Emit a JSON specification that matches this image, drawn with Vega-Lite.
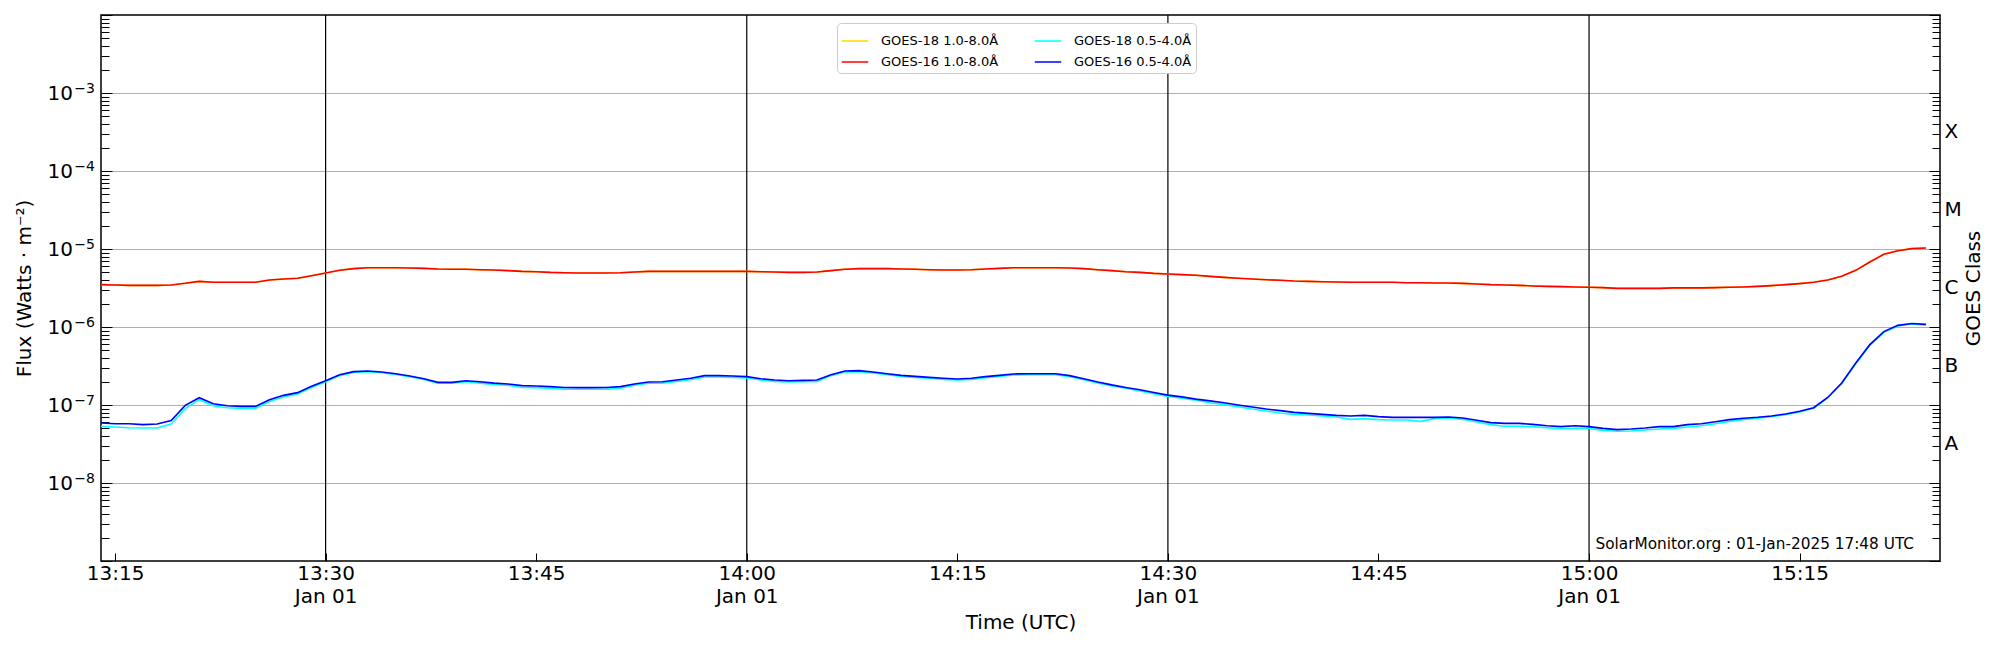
{
  "$schema": "https://vega.github.io/schema/vega-lite/v6.json",
  "width": 1839,
  "height": 546,
  "autosize": {"type": "none"},
  "padding": {"left": 101, "top": 15, "right": 60, "bottom": 89},
  "background": "white",
  "config": {
    "font": "DejaVu Sans",
    "view": {"stroke": "black", "strokeWidth": 1.5}
  },
  "resolve": {"scale": {"y": "shared"}, "axis": {"y": "independent"}},
  "encoding": {
    "x": {
      "field": "t",
      "type": "temporal",
      "scale": {
        "type": "utc",
        "nice": false,
        "domain": [
          {"year": 2025, "month": 1, "date": 1, "hours": 13, "minutes": 14, "utc": true},
          {"year": 2025, "month": 1, "date": 1, "hours": 15, "minutes": 25, "utc": true}
        ]
      },
      "axis": {
        "orient": "bottom",
        "title": "Time (UTC)",
        "titleFontSize": 20,
        "titleFontWeight": "normal",
        "titleColor": "black",
        "titlePadding": 6,
        "values": [
          {"year": 2025, "month": 1, "date": 1, "hours": 13, "minutes": 15, "utc": true},
          {"year": 2025, "month": 1, "date": 1, "hours": 13, "minutes": 30, "utc": true},
          {"year": 2025, "month": 1, "date": 1, "hours": 13, "minutes": 45, "utc": true},
          {"year": 2025, "month": 1, "date": 1, "hours": 14, "minutes": 0, "utc": true},
          {"year": 2025, "month": 1, "date": 1, "hours": 14, "minutes": 15, "utc": true},
          {"year": 2025, "month": 1, "date": 1, "hours": 14, "minutes": 30, "utc": true},
          {"year": 2025, "month": 1, "date": 1, "hours": 14, "minutes": 45, "utc": true},
          {"year": 2025, "month": 1, "date": 1, "hours": 15, "minutes": 0, "utc": true},
          {"year": 2025, "month": 1, "date": 1, "hours": 15, "minutes": 15, "utc": true}
        ],
        "labelExpr": "utcminutes(datum.value) % 30 == 0 ? [utcFormat(datum.value, '%H:%M'), utcFormat(datum.value, '%b %d')] : utcFormat(datum.value, '%H:%M')",
        "labelFontSize": 20,
        "labelColor": "black",
        "labelLineHeight": 23,
        "labelPadding": 10.5,
        "labelFlush": false,
        "labelOverlap": false,
        "labelBound": false,
        "tickSize": -8,
        "tickColor": "black",
        "tickWidth": 1,
        "domain": false,
        "grid": false
      }
    }
  },
  "layer": [
    {
      "data": {
        "format": {"parse": {"t": "utc:'%Y-%m-%d %H:%M'"}},
        "values": [
          {"t": "2025-01-01 13:30"},
          {"t": "2025-01-01 14:00"},
          {"t": "2025-01-01 14:30"},
          {"t": "2025-01-01 15:00"}
        ]
      },
      "mark": {"type": "rule", "color": "black", "strokeWidth": 1.2},
      "encoding": {
        "y": {
          "datum": 1e-9,
          "type": "quantitative",
          "scale": {"type": "log", "domain": [1e-9, 1e-2], "nice": false},
          "axis": {
            "orient": "left",
            "title": null,
            "tickCount": 20,
            "labelExpr": "abs(log(datum.value)/LN10 - round(log(datum.value)/LN10)) < 1e-6 && datum.value > 5e-9 && datum.value < 5e-3 ? '−' + toString(-round(log(datum.value)/LN10)) : ''",
            "labelFontSize": 14,
            "labelColor": "black",
            "labelPadding": 17.5,
            "labelOffset": -5,
            "labelOverlap": false,
            "labelFlush": false,
            "labelBound": false,
            "tickColor": "black",
            "tickWidth": 1,
            "tickSize": -11,
            "tickOpacity": {"condition": {"test": "abs(log(datum.value)/LN10 - round(log(datum.value)/LN10)) < 1e-6", "value": 1}, "value": 0},
            "domain": false,
            "grid": false
          }
        },
        "y2": {"datum": 1e-2}
      }
    },
    {
      "data": {
        "format": {"parse": {"t": "utc:'%Y-%m-%d %H:%M'"}},
        "values": [
{"s":"18L","t":"2025-01-01 13:14","f":3.49e-6},{"s":"18L","t":"2025-01-01 13:15","f":3.46e-6},{"s":"18L","t":"2025-01-01 13:16","f":3.42e-6},{"s":"18L","t":"2025-01-01 13:17","f":3.42e-6},{"s":"18L","t":"2025-01-01 13:18","f":3.42e-6},{"s":"18L","t":"2025-01-01 13:19","f":3.46e-6},{"s":"18L","t":"2025-01-01 13:20","f":3.63e-6},{"s":"18L","t":"2025-01-01 13:21","f":3.85e-6},{"s":"18L","t":"2025-01-01 13:22","f":3.74e-6},{"s":"18L","t":"2025-01-01 13:23","f":3.74e-6},
{"s":"18L","t":"2025-01-01 13:24","f":3.74e-6},{"s":"18L","t":"2025-01-01 13:25","f":3.74e-6},{"s":"18L","t":"2025-01-01 13:26","f":4.01e-6},{"s":"18L","t":"2025-01-01 13:27","f":4.12e-6},{"s":"18L","t":"2025-01-01 13:28","f":4.21e-6},{"s":"18L","t":"2025-01-01 13:29","f":4.55e-6},{"s":"18L","t":"2025-01-01 13:30","f":4.92e-6},{"s":"18L","t":"2025-01-01 13:31","f":5.33e-6},{"s":"18L","t":"2025-01-01 13:32","f":5.60e-6},{"s":"18L","t":"2025-01-01 13:33","f":5.76e-6},
{"s":"18L","t":"2025-01-01 13:34","f":5.76e-6},{"s":"18L","t":"2025-01-01 13:35","f":5.76e-6},{"s":"18L","t":"2025-01-01 13:36","f":5.70e-6},{"s":"18L","t":"2025-01-01 13:37","f":5.65e-6},{"s":"18L","t":"2025-01-01 13:38","f":5.54e-6},{"s":"18L","t":"2025-01-01 13:39","f":5.49e-6},{"s":"18L","t":"2025-01-01 13:40","f":5.49e-6},{"s":"18L","t":"2025-01-01 13:41","f":5.43e-6},{"s":"18L","t":"2025-01-01 13:42","f":5.38e-6},{"s":"18L","t":"2025-01-01 13:43","f":5.28e-6},
{"s":"18L","t":"2025-01-01 13:44","f":5.17e-6},{"s":"18L","t":"2025-01-01 13:45","f":5.12e-6},{"s":"18L","t":"2025-01-01 13:46","f":5.02e-6},{"s":"18L","t":"2025-01-01 13:47","f":4.97e-6},{"s":"18L","t":"2025-01-01 13:48","f":4.92e-6},{"s":"18L","t":"2025-01-01 13:49","f":4.92e-6},{"s":"18L","t":"2025-01-01 13:50","f":4.92e-6},{"s":"18L","t":"2025-01-01 13:51","f":4.97e-6},{"s":"18L","t":"2025-01-01 13:52","f":5.07e-6},{"s":"18L","t":"2025-01-01 13:53","f":5.17e-6},
{"s":"18L","t":"2025-01-01 13:54","f":5.17e-6},{"s":"18L","t":"2025-01-01 13:55","f":5.17e-6},{"s":"18L","t":"2025-01-01 13:56","f":5.17e-6},{"s":"18L","t":"2025-01-01 13:57","f":5.17e-6},{"s":"18L","t":"2025-01-01 13:58","f":5.17e-6},{"s":"18L","t":"2025-01-01 13:59","f":5.17e-6},{"s":"18L","t":"2025-01-01 14:00","f":5.17e-6},{"s":"18L","t":"2025-01-01 14:01","f":5.12e-6},{"s":"18L","t":"2025-01-01 14:02","f":5.07e-6},{"s":"18L","t":"2025-01-01 14:03","f":5.02e-6},
{"s":"18L","t":"2025-01-01 14:04","f":5.02e-6},{"s":"18L","t":"2025-01-01 14:05","f":5.07e-6},{"s":"18L","t":"2025-01-01 14:06","f":5.28e-6},{"s":"18L","t":"2025-01-01 14:07","f":5.49e-6},{"s":"18L","t":"2025-01-01 14:08","f":5.60e-6},{"s":"18L","t":"2025-01-01 14:09","f":5.60e-6},{"s":"18L","t":"2025-01-01 14:10","f":5.60e-6},{"s":"18L","t":"2025-01-01 14:11","f":5.54e-6},{"s":"18L","t":"2025-01-01 14:12","f":5.49e-6},{"s":"18L","t":"2025-01-01 14:13","f":5.43e-6},
{"s":"18L","t":"2025-01-01 14:14","f":5.38e-6},{"s":"18L","t":"2025-01-01 14:15","f":5.38e-6},{"s":"18L","t":"2025-01-01 14:16","f":5.43e-6},{"s":"18L","t":"2025-01-01 14:17","f":5.54e-6},{"s":"18L","t":"2025-01-01 14:18","f":5.65e-6},{"s":"18L","t":"2025-01-01 14:19","f":5.76e-6},{"s":"18L","t":"2025-01-01 14:20","f":5.76e-6},{"s":"18L","t":"2025-01-01 14:21","f":5.76e-6},{"s":"18L","t":"2025-01-01 14:22","f":5.76e-6},{"s":"18L","t":"2025-01-01 14:23","f":5.70e-6},
{"s":"18L","t":"2025-01-01 14:24","f":5.60e-6},{"s":"18L","t":"2025-01-01 14:25","f":5.43e-6},{"s":"18L","t":"2025-01-01 14:26","f":5.28e-6},{"s":"18L","t":"2025-01-01 14:27","f":5.12e-6},{"s":"18L","t":"2025-01-01 14:28","f":5.02e-6},{"s":"18L","t":"2025-01-01 14:29","f":4.87e-6},{"s":"18L","t":"2025-01-01 14:30","f":4.78e-6},{"s":"18L","t":"2025-01-01 14:31","f":4.69e-6},{"s":"18L","t":"2025-01-01 14:32","f":4.60e-6},{"s":"18L","t":"2025-01-01 14:33","f":4.46e-6},
{"s":"18L","t":"2025-01-01 14:34","f":4.33e-6},{"s":"18L","t":"2025-01-01 14:35","f":4.21e-6},{"s":"18L","t":"2025-01-01 14:36","f":4.12e-6},{"s":"18L","t":"2025-01-01 14:37","f":4.04e-6},{"s":"18L","t":"2025-01-01 14:38","f":3.97e-6},{"s":"18L","t":"2025-01-01 14:39","f":3.89e-6},{"s":"18L","t":"2025-01-01 14:40","f":3.85e-6},{"s":"18L","t":"2025-01-01 14:41","f":3.81e-6},{"s":"18L","t":"2025-01-01 14:42","f":3.78e-6},{"s":"18L","t":"2025-01-01 14:43","f":3.74e-6},
{"s":"18L","t":"2025-01-01 14:44","f":3.74e-6},{"s":"18L","t":"2025-01-01 14:45","f":3.74e-6},{"s":"18L","t":"2025-01-01 14:46","f":3.74e-6},{"s":"18L","t":"2025-01-01 14:47","f":3.70e-6},{"s":"18L","t":"2025-01-01 14:48","f":3.70e-6},{"s":"18L","t":"2025-01-01 14:49","f":3.67e-6},{"s":"18L","t":"2025-01-01 14:50","f":3.67e-6},{"s":"18L","t":"2025-01-01 14:51","f":3.63e-6},{"s":"18L","t":"2025-01-01 14:52","f":3.56e-6},{"s":"18L","t":"2025-01-01 14:53","f":3.49e-6},
{"s":"18L","t":"2025-01-01 14:54","f":3.46e-6},{"s":"18L","t":"2025-01-01 14:55","f":3.42e-6},{"s":"18L","t":"2025-01-01 14:56","f":3.36e-6},{"s":"18L","t":"2025-01-01 14:57","f":3.32e-6},{"s":"18L","t":"2025-01-01 14:58","f":3.29e-6},{"s":"18L","t":"2025-01-01 14:59","f":3.26e-6},{"s":"18L","t":"2025-01-01 15:00","f":3.23e-6},{"s":"18L","t":"2025-01-01 15:01","f":3.20e-6},{"s":"18L","t":"2025-01-01 15:02","f":3.13e-6},{"s":"18L","t":"2025-01-01 15:03","f":3.13e-6},
{"s":"18L","t":"2025-01-01 15:04","f":3.13e-6},{"s":"18L","t":"2025-01-01 15:05","f":3.13e-6},{"s":"18L","t":"2025-01-01 15:06","f":3.17e-6},{"s":"18L","t":"2025-01-01 15:07","f":3.17e-6},{"s":"18L","t":"2025-01-01 15:08","f":3.17e-6},{"s":"18L","t":"2025-01-01 15:09","f":3.20e-6},{"s":"18L","t":"2025-01-01 15:10","f":3.23e-6},{"s":"18L","t":"2025-01-01 15:11","f":3.26e-6},{"s":"18L","t":"2025-01-01 15:12","f":3.32e-6},{"s":"18L","t":"2025-01-01 15:13","f":3.39e-6},
{"s":"18L","t":"2025-01-01 15:14","f":3.49e-6},{"s":"18L","t":"2025-01-01 15:15","f":3.60e-6},{"s":"18L","t":"2025-01-01 15:16","f":3.74e-6},{"s":"18L","t":"2025-01-01 15:17","f":4.01e-6},{"s":"18L","t":"2025-01-01 15:18","f":4.46e-6},{"s":"18L","t":"2025-01-01 15:19","f":5.33e-6},{"s":"18L","t":"2025-01-01 15:20","f":6.82e-6},{"s":"18L","t":"2025-01-01 15:21","f":8.54e-6},{"s":"18L","t":"2025-01-01 15:22","f":9.52e-6},{"s":"18L","t":"2025-01-01 15:23","f":1.01e-5},
{"s":"18L","t":"2025-01-01 15:24","f":1.03e-5},
{"s":"16L","t":"2025-01-01 13:14","f":3.49e-6},{"s":"16L","t":"2025-01-01 13:15","f":3.46e-6},{"s":"16L","t":"2025-01-01 13:16","f":3.42e-6},{"s":"16L","t":"2025-01-01 13:17","f":3.42e-6},{"s":"16L","t":"2025-01-01 13:18","f":3.42e-6},{"s":"16L","t":"2025-01-01 13:19","f":3.46e-6},{"s":"16L","t":"2025-01-01 13:20","f":3.63e-6},{"s":"16L","t":"2025-01-01 13:21","f":3.85e-6},{"s":"16L","t":"2025-01-01 13:22","f":3.74e-6},{"s":"16L","t":"2025-01-01 13:23","f":3.74e-6},
{"s":"16L","t":"2025-01-01 13:24","f":3.74e-6},{"s":"16L","t":"2025-01-01 13:25","f":3.74e-6},{"s":"16L","t":"2025-01-01 13:26","f":4.01e-6},{"s":"16L","t":"2025-01-01 13:27","f":4.12e-6},{"s":"16L","t":"2025-01-01 13:28","f":4.21e-6},{"s":"16L","t":"2025-01-01 13:29","f":4.55e-6},{"s":"16L","t":"2025-01-01 13:30","f":4.92e-6},{"s":"16L","t":"2025-01-01 13:31","f":5.33e-6},{"s":"16L","t":"2025-01-01 13:32","f":5.60e-6},{"s":"16L","t":"2025-01-01 13:33","f":5.76e-6},
{"s":"16L","t":"2025-01-01 13:34","f":5.76e-6},{"s":"16L","t":"2025-01-01 13:35","f":5.76e-6},{"s":"16L","t":"2025-01-01 13:36","f":5.70e-6},{"s":"16L","t":"2025-01-01 13:37","f":5.65e-6},{"s":"16L","t":"2025-01-01 13:38","f":5.54e-6},{"s":"16L","t":"2025-01-01 13:39","f":5.49e-6},{"s":"16L","t":"2025-01-01 13:40","f":5.49e-6},{"s":"16L","t":"2025-01-01 13:41","f":5.43e-6},{"s":"16L","t":"2025-01-01 13:42","f":5.38e-6},{"s":"16L","t":"2025-01-01 13:43","f":5.28e-6},
{"s":"16L","t":"2025-01-01 13:44","f":5.17e-6},{"s":"16L","t":"2025-01-01 13:45","f":5.12e-6},{"s":"16L","t":"2025-01-01 13:46","f":5.02e-6},{"s":"16L","t":"2025-01-01 13:47","f":4.97e-6},{"s":"16L","t":"2025-01-01 13:48","f":4.92e-6},{"s":"16L","t":"2025-01-01 13:49","f":4.92e-6},{"s":"16L","t":"2025-01-01 13:50","f":4.92e-6},{"s":"16L","t":"2025-01-01 13:51","f":4.97e-6},{"s":"16L","t":"2025-01-01 13:52","f":5.07e-6},{"s":"16L","t":"2025-01-01 13:53","f":5.17e-6},
{"s":"16L","t":"2025-01-01 13:54","f":5.17e-6},{"s":"16L","t":"2025-01-01 13:55","f":5.17e-6},{"s":"16L","t":"2025-01-01 13:56","f":5.17e-6},{"s":"16L","t":"2025-01-01 13:57","f":5.17e-6},{"s":"16L","t":"2025-01-01 13:58","f":5.17e-6},{"s":"16L","t":"2025-01-01 13:59","f":5.17e-6},{"s":"16L","t":"2025-01-01 14:00","f":5.17e-6},{"s":"16L","t":"2025-01-01 14:01","f":5.12e-6},{"s":"16L","t":"2025-01-01 14:02","f":5.07e-6},{"s":"16L","t":"2025-01-01 14:03","f":5.02e-6},
{"s":"16L","t":"2025-01-01 14:04","f":5.02e-6},{"s":"16L","t":"2025-01-01 14:05","f":5.07e-6},{"s":"16L","t":"2025-01-01 14:06","f":5.28e-6},{"s":"16L","t":"2025-01-01 14:07","f":5.49e-6},{"s":"16L","t":"2025-01-01 14:08","f":5.60e-6},{"s":"16L","t":"2025-01-01 14:09","f":5.60e-6},{"s":"16L","t":"2025-01-01 14:10","f":5.60e-6},{"s":"16L","t":"2025-01-01 14:11","f":5.54e-6},{"s":"16L","t":"2025-01-01 14:12","f":5.49e-6},{"s":"16L","t":"2025-01-01 14:13","f":5.43e-6},
{"s":"16L","t":"2025-01-01 14:14","f":5.38e-6},{"s":"16L","t":"2025-01-01 14:15","f":5.38e-6},{"s":"16L","t":"2025-01-01 14:16","f":5.43e-6},{"s":"16L","t":"2025-01-01 14:17","f":5.54e-6},{"s":"16L","t":"2025-01-01 14:18","f":5.65e-6},{"s":"16L","t":"2025-01-01 14:19","f":5.76e-6},{"s":"16L","t":"2025-01-01 14:20","f":5.76e-6},{"s":"16L","t":"2025-01-01 14:21","f":5.76e-6},{"s":"16L","t":"2025-01-01 14:22","f":5.76e-6},{"s":"16L","t":"2025-01-01 14:23","f":5.70e-6},
{"s":"16L","t":"2025-01-01 14:24","f":5.60e-6},{"s":"16L","t":"2025-01-01 14:25","f":5.43e-6},{"s":"16L","t":"2025-01-01 14:26","f":5.28e-6},{"s":"16L","t":"2025-01-01 14:27","f":5.12e-6},{"s":"16L","t":"2025-01-01 14:28","f":5.02e-6},{"s":"16L","t":"2025-01-01 14:29","f":4.87e-6},{"s":"16L","t":"2025-01-01 14:30","f":4.78e-6},{"s":"16L","t":"2025-01-01 14:31","f":4.69e-6},{"s":"16L","t":"2025-01-01 14:32","f":4.60e-6},{"s":"16L","t":"2025-01-01 14:33","f":4.46e-6},
{"s":"16L","t":"2025-01-01 14:34","f":4.33e-6},{"s":"16L","t":"2025-01-01 14:35","f":4.21e-6},{"s":"16L","t":"2025-01-01 14:36","f":4.12e-6},{"s":"16L","t":"2025-01-01 14:37","f":4.04e-6},{"s":"16L","t":"2025-01-01 14:38","f":3.97e-6},{"s":"16L","t":"2025-01-01 14:39","f":3.89e-6},{"s":"16L","t":"2025-01-01 14:40","f":3.85e-6},{"s":"16L","t":"2025-01-01 14:41","f":3.81e-6},{"s":"16L","t":"2025-01-01 14:42","f":3.78e-6},{"s":"16L","t":"2025-01-01 14:43","f":3.74e-6},
{"s":"16L","t":"2025-01-01 14:44","f":3.74e-6},{"s":"16L","t":"2025-01-01 14:45","f":3.74e-6},{"s":"16L","t":"2025-01-01 14:46","f":3.74e-6},{"s":"16L","t":"2025-01-01 14:47","f":3.70e-6},{"s":"16L","t":"2025-01-01 14:48","f":3.70e-6},{"s":"16L","t":"2025-01-01 14:49","f":3.67e-6},{"s":"16L","t":"2025-01-01 14:50","f":3.67e-6},{"s":"16L","t":"2025-01-01 14:51","f":3.63e-6},{"s":"16L","t":"2025-01-01 14:52","f":3.56e-6},{"s":"16L","t":"2025-01-01 14:53","f":3.49e-6},
{"s":"16L","t":"2025-01-01 14:54","f":3.46e-6},{"s":"16L","t":"2025-01-01 14:55","f":3.42e-6},{"s":"16L","t":"2025-01-01 14:56","f":3.36e-6},{"s":"16L","t":"2025-01-01 14:57","f":3.32e-6},{"s":"16L","t":"2025-01-01 14:58","f":3.29e-6},{"s":"16L","t":"2025-01-01 14:59","f":3.26e-6},{"s":"16L","t":"2025-01-01 15:00","f":3.23e-6},{"s":"16L","t":"2025-01-01 15:01","f":3.20e-6},{"s":"16L","t":"2025-01-01 15:02","f":3.13e-6},{"s":"16L","t":"2025-01-01 15:03","f":3.13e-6},
{"s":"16L","t":"2025-01-01 15:04","f":3.13e-6},{"s":"16L","t":"2025-01-01 15:05","f":3.13e-6},{"s":"16L","t":"2025-01-01 15:06","f":3.17e-6},{"s":"16L","t":"2025-01-01 15:07","f":3.17e-6},{"s":"16L","t":"2025-01-01 15:08","f":3.17e-6},{"s":"16L","t":"2025-01-01 15:09","f":3.20e-6},{"s":"16L","t":"2025-01-01 15:10","f":3.23e-6},{"s":"16L","t":"2025-01-01 15:11","f":3.26e-6},{"s":"16L","t":"2025-01-01 15:12","f":3.32e-6},{"s":"16L","t":"2025-01-01 15:13","f":3.39e-6},
{"s":"16L","t":"2025-01-01 15:14","f":3.49e-6},{"s":"16L","t":"2025-01-01 15:15","f":3.60e-6},{"s":"16L","t":"2025-01-01 15:16","f":3.74e-6},{"s":"16L","t":"2025-01-01 15:17","f":4.01e-6},{"s":"16L","t":"2025-01-01 15:18","f":4.46e-6},{"s":"16L","t":"2025-01-01 15:19","f":5.33e-6},{"s":"16L","t":"2025-01-01 15:20","f":6.82e-6},{"s":"16L","t":"2025-01-01 15:21","f":8.54e-6},{"s":"16L","t":"2025-01-01 15:22","f":9.52e-6},{"s":"16L","t":"2025-01-01 15:23","f":1.01e-5},
{"s":"16L","t":"2025-01-01 15:24","f":1.03e-5},
{"s":"18S","t":"2025-01-01 13:14","f":5.33e-8},{"s":"18S","t":"2025-01-01 13:15","f":5.23e-8},{"s":"18S","t":"2025-01-01 13:16","f":5.12e-8},{"s":"18S","t":"2025-01-01 13:17","f":5.07e-8},{"s":"18S","t":"2025-01-01 13:18","f":5.07e-8},{"s":"18S","t":"2025-01-01 13:19","f":5.71e-8},{"s":"18S","t":"2025-01-01 13:20","f":8.97e-8},{"s":"18S","t":"2025-01-01 13:21","f":1.17e-7},{"s":"18S","t":"2025-01-01 13:22","f":9.80e-8},{"s":"18S","t":"2025-01-01 13:23","f":9.24e-8},
{"s":"18S","t":"2025-01-01 13:24","f":9.06e-8},{"s":"18S","t":"2025-01-01 13:25","f":9.06e-8},{"s":"18S","t":"2025-01-01 13:26","f":1.11e-7},{"s":"18S","t":"2025-01-01 13:27","f":1.27e-7},{"s":"18S","t":"2025-01-01 13:28","f":1.38e-7},{"s":"18S","t":"2025-01-01 13:29","f":1.67e-7},{"s":"18S","t":"2025-01-01 13:30","f":1.99e-7},{"s":"18S","t":"2025-01-01 13:31","f":2.38e-7},{"s":"18S","t":"2025-01-01 13:32","f":2.62e-7},{"s":"18S","t":"2025-01-01 13:33","f":2.68e-7},
{"s":"18S","t":"2025-01-01 13:34","f":2.60e-7},{"s":"18S","t":"2025-01-01 13:35","f":2.47e-7},{"s":"18S","t":"2025-01-01 13:36","f":2.31e-7},{"s":"18S","t":"2025-01-01 13:37","f":2.13e-7},{"s":"18S","t":"2025-01-01 13:38","f":1.91e-7},{"s":"18S","t":"2025-01-01 13:39","f":1.91e-7},{"s":"18S","t":"2025-01-01 13:40","f":1.99e-7},{"s":"18S","t":"2025-01-01 13:41","f":1.91e-7},{"s":"18S","t":"2025-01-01 13:42","f":1.84e-7},{"s":"18S","t":"2025-01-01 13:43","f":1.79e-7},
{"s":"18S","t":"2025-01-01 13:44","f":1.68e-7},{"s":"18S","t":"2025-01-01 13:45","f":1.67e-7},{"s":"18S","t":"2025-01-01 13:46","f":1.64e-7},{"s":"18S","t":"2025-01-01 13:47","f":1.60e-7},{"s":"18S","t":"2025-01-01 13:48","f":1.59e-7},{"s":"18S","t":"2025-01-01 13:49","f":1.59e-7},{"s":"18S","t":"2025-01-01 13:50","f":1.60e-7},{"s":"18S","t":"2025-01-01 13:51","f":1.64e-7},{"s":"18S","t":"2025-01-01 13:52","f":1.79e-7},{"s":"18S","t":"2025-01-01 13:53","f":1.90e-7},
{"s":"18S","t":"2025-01-01 13:54","f":1.91e-7},{"s":"18S","t":"2025-01-01 13:55","f":2.01e-7},{"s":"18S","t":"2025-01-01 13:56","f":2.11e-7},{"s":"18S","t":"2025-01-01 13:57","f":2.29e-7},{"s":"18S","t":"2025-01-01 13:58","f":2.29e-7},{"s":"18S","t":"2025-01-01 13:59","f":2.26e-7},{"s":"18S","t":"2025-01-01 14:00","f":2.22e-7},{"s":"18S","t":"2025-01-01 14:01","f":2.09e-7},{"s":"18S","t":"2025-01-01 14:02","f":2.01e-7},{"s":"18S","t":"2025-01-01 14:03","f":1.97e-7},
{"s":"18S","t":"2025-01-01 14:04","f":1.99e-7},{"s":"18S","t":"2025-01-01 14:05","f":2.01e-7},{"s":"18S","t":"2025-01-01 14:06","f":2.38e-7},{"s":"18S","t":"2025-01-01 14:07","f":2.65e-7},{"s":"18S","t":"2025-01-01 14:08","f":2.68e-7},{"s":"18S","t":"2025-01-01 14:09","f":2.57e-7},{"s":"18S","t":"2025-01-01 14:10","f":2.45e-7},{"s":"18S","t":"2025-01-01 14:11","f":2.33e-7},{"s":"18S","t":"2025-01-01 14:12","f":2.26e-7},{"s":"18S","t":"2025-01-01 14:13","f":2.20e-7},
{"s":"18S","t":"2025-01-01 14:14","f":2.13e-7},{"s":"18S","t":"2025-01-01 14:15","f":2.09e-7},{"s":"18S","t":"2025-01-01 14:16","f":2.13e-7},{"s":"18S","t":"2025-01-01 14:17","f":2.24e-7},{"s":"18S","t":"2025-01-01 14:18","f":2.33e-7},{"s":"18S","t":"2025-01-01 14:19","f":2.42e-7},{"s":"18S","t":"2025-01-01 14:20","f":2.45e-7},{"s":"18S","t":"2025-01-01 14:21","f":2.45e-7},{"s":"18S","t":"2025-01-01 14:22","f":2.45e-7},{"s":"18S","t":"2025-01-01 14:23","f":2.31e-7},
{"s":"18S","t":"2025-01-01 14:24","f":2.11e-7},{"s":"18S","t":"2025-01-01 14:25","f":1.91e-7},{"s":"18S","t":"2025-01-01 14:26","f":1.75e-7},{"s":"18S","t":"2025-01-01 14:27","f":1.64e-7},{"s":"18S","t":"2025-01-01 14:28","f":1.51e-7},{"s":"18S","t":"2025-01-01 14:29","f":1.40e-7},{"s":"18S","t":"2025-01-01 14:30","f":1.29e-7},{"s":"18S","t":"2025-01-01 14:31","f":1.22e-7},{"s":"18S","t":"2025-01-01 14:32","f":1.15e-7},{"s":"18S","t":"2025-01-01 14:33","f":1.07e-7},
{"s":"18S","t":"2025-01-01 14:34","f":1.01e-7},{"s":"18S","t":"2025-01-01 14:35","f":9.52e-8},{"s":"18S","t":"2025-01-01 14:36","f":8.89e-8},{"s":"18S","t":"2025-01-01 14:37","f":8.38e-8},{"s":"18S","t":"2025-01-01 14:38","f":7.90e-8},{"s":"18S","t":"2025-01-01 14:39","f":7.59e-8},{"s":"18S","t":"2025-01-01 14:40","f":7.44e-8},{"s":"18S","t":"2025-01-01 14:41","f":7.23e-8},{"s":"18S","t":"2025-01-01 14:42","f":7.02e-8},{"s":"18S","t":"2025-01-01 14:43","f":6.55e-8},
{"s":"18S","t":"2025-01-01 14:44","f":6.68e-8},{"s":"18S","t":"2025-01-01 14:45","f":6.49e-8},{"s":"18S","t":"2025-01-01 14:46","f":6.42e-8},{"s":"18S","t":"2025-01-01 14:47","f":6.42e-8},{"s":"18S","t":"2025-01-01 14:48","f":6.17e-8},{"s":"18S","t":"2025-01-01 14:49","f":6.68e-8},{"s":"18S","t":"2025-01-01 14:50","f":6.81e-8},{"s":"18S","t":"2025-01-01 14:51","f":6.55e-8},{"s":"18S","t":"2025-01-01 14:52","f":6.05e-8},{"s":"18S","t":"2025-01-01 14:53","f":5.60e-8},
{"s":"18S","t":"2025-01-01 14:54","f":5.33e-8},{"s":"18S","t":"2025-01-01 14:55","f":5.33e-8},{"s":"18S","t":"2025-01-01 14:56","f":5.28e-8},{"s":"18S","t":"2025-01-01 14:57","f":5.12e-8},{"s":"18S","t":"2025-01-01 14:58","f":4.97e-8},{"s":"18S","t":"2025-01-01 14:59","f":5.02e-8},{"s":"18S","t":"2025-01-01 15:00","f":5.02e-8},{"s":"18S","t":"2025-01-01 15:01","f":4.73e-8},{"s":"18S","t":"2025-01-01 15:02","f":4.60e-8},{"s":"18S","t":"2025-01-01 15:03","f":4.64e-8},
{"s":"18S","t":"2025-01-01 15:04","f":4.78e-8},{"s":"18S","t":"2025-01-01 15:05","f":4.92e-8},{"s":"18S","t":"2025-01-01 15:06","f":5.02e-8},{"s":"18S","t":"2025-01-01 15:07","f":5.23e-8},{"s":"18S","t":"2025-01-01 15:08","f":5.43e-8},{"s":"18S","t":"2025-01-01 15:09","f":5.76e-8},{"s":"18S","t":"2025-01-01 15:10","f":6.17e-8},{"s":"18S","t":"2025-01-01 15:11","f":6.49e-8},{"s":"18S","t":"2025-01-01 15:12","f":6.75e-8},{"s":"18S","t":"2025-01-01 15:13","f":7.09e-8},
{"s":"18S","t":"2025-01-01 15:14","f":7.52e-8},{"s":"18S","t":"2025-01-01 15:15","f":8.13e-8},{"s":"18S","t":"2025-01-01 15:16","f":9.06e-8},{"s":"18S","t":"2025-01-01 15:17","f":1.23e-7},{"s":"18S","t":"2025-01-01 15:18","f":1.88e-7},{"s":"18S","t":"2025-01-01 15:19","f":3.39e-7},{"s":"18S","t":"2025-01-01 15:20","f":5.82e-7},{"s":"18S","t":"2025-01-01 15:21","f":8.55e-7},{"s":"18S","t":"2025-01-01 15:22","f":1.03e-6},{"s":"18S","t":"2025-01-01 15:23","f":1.09e-6},
{"s":"18S","t":"2025-01-01 15:24","f":1.06e-6},
{"s":"16S","t":"2025-01-01 13:14","f":5.88e-8},{"s":"16S","t":"2025-01-01 13:15","f":5.76e-8},{"s":"16S","t":"2025-01-01 13:16","f":5.76e-8},{"s":"16S","t":"2025-01-01 13:17","f":5.60e-8},{"s":"16S","t":"2025-01-01 13:18","f":5.71e-8},{"s":"16S","t":"2025-01-01 13:19","f":6.30e-8},{"s":"16S","t":"2025-01-01 13:20","f":9.90e-8},{"s":"16S","t":"2025-01-01 13:21","f":1.24e-7},{"s":"16S","t":"2025-01-01 13:22","f":1.04e-7},{"s":"16S","t":"2025-01-01 13:23","f":9.80e-8},
{"s":"16S","t":"2025-01-01 13:24","f":9.61e-8},{"s":"16S","t":"2025-01-01 13:25","f":9.61e-8},{"s":"16S","t":"2025-01-01 13:26","f":1.17e-7},{"s":"16S","t":"2025-01-01 13:27","f":1.33e-7},{"s":"16S","t":"2025-01-01 13:28","f":1.44e-7},{"s":"16S","t":"2025-01-01 13:29","f":1.74e-7},{"s":"16S","t":"2025-01-01 13:30","f":2.05e-7},{"s":"16S","t":"2025-01-01 13:31","f":2.45e-7},{"s":"16S","t":"2025-01-01 13:32","f":2.68e-7},{"s":"16S","t":"2025-01-01 13:33","f":2.73e-7},
{"s":"16S","t":"2025-01-01 13:34","f":2.65e-7},{"s":"16S","t":"2025-01-01 13:35","f":2.52e-7},{"s":"16S","t":"2025-01-01 13:36","f":2.35e-7},{"s":"16S","t":"2025-01-01 13:37","f":2.17e-7},{"s":"16S","t":"2025-01-01 13:38","f":1.95e-7},{"s":"16S","t":"2025-01-01 13:39","f":1.95e-7},{"s":"16S","t":"2025-01-01 13:40","f":2.05e-7},{"s":"16S","t":"2025-01-01 13:41","f":1.99e-7},{"s":"16S","t":"2025-01-01 13:42","f":1.91e-7},{"s":"16S","t":"2025-01-01 13:43","f":1.86e-7},
{"s":"16S","t":"2025-01-01 13:44","f":1.77e-7},{"s":"16S","t":"2025-01-01 13:45","f":1.75e-7},{"s":"16S","t":"2025-01-01 13:46","f":1.72e-7},{"s":"16S","t":"2025-01-01 13:47","f":1.68e-7},{"s":"16S","t":"2025-01-01 13:48","f":1.67e-7},{"s":"16S","t":"2025-01-01 13:49","f":1.67e-7},{"s":"16S","t":"2025-01-01 13:50","f":1.68e-7},{"s":"16S","t":"2025-01-01 13:51","f":1.72e-7},{"s":"16S","t":"2025-01-01 13:52","f":1.86e-7},{"s":"16S","t":"2025-01-01 13:53","f":1.97e-7},
{"s":"16S","t":"2025-01-01 13:54","f":1.99e-7},{"s":"16S","t":"2025-01-01 13:55","f":2.09e-7},{"s":"16S","t":"2025-01-01 13:56","f":2.20e-7},{"s":"16S","t":"2025-01-01 13:57","f":2.38e-7},{"s":"16S","t":"2025-01-01 13:58","f":2.38e-7},{"s":"16S","t":"2025-01-01 13:59","f":2.35e-7},{"s":"16S","t":"2025-01-01 14:00","f":2.31e-7},{"s":"16S","t":"2025-01-01 14:01","f":2.17e-7},{"s":"16S","t":"2025-01-01 14:02","f":2.09e-7},{"s":"16S","t":"2025-01-01 14:03","f":2.05e-7},
{"s":"16S","t":"2025-01-01 14:04","f":2.07e-7},{"s":"16S","t":"2025-01-01 14:05","f":2.09e-7},{"s":"16S","t":"2025-01-01 14:06","f":2.45e-7},{"s":"16S","t":"2025-01-01 14:07","f":2.73e-7},{"s":"16S","t":"2025-01-01 14:08","f":2.76e-7},{"s":"16S","t":"2025-01-01 14:09","f":2.65e-7},{"s":"16S","t":"2025-01-01 14:10","f":2.52e-7},{"s":"16S","t":"2025-01-01 14:11","f":2.40e-7},{"s":"16S","t":"2025-01-01 14:12","f":2.33e-7},{"s":"16S","t":"2025-01-01 14:13","f":2.26e-7},
{"s":"16S","t":"2025-01-01 14:14","f":2.20e-7},{"s":"16S","t":"2025-01-01 14:15","f":2.15e-7},{"s":"16S","t":"2025-01-01 14:16","f":2.20e-7},{"s":"16S","t":"2025-01-01 14:17","f":2.31e-7},{"s":"16S","t":"2025-01-01 14:18","f":2.40e-7},{"s":"16S","t":"2025-01-01 14:19","f":2.50e-7},{"s":"16S","t":"2025-01-01 14:20","f":2.52e-7},{"s":"16S","t":"2025-01-01 14:21","f":2.52e-7},{"s":"16S","t":"2025-01-01 14:22","f":2.52e-7},{"s":"16S","t":"2025-01-01 14:23","f":2.38e-7},
{"s":"16S","t":"2025-01-01 14:24","f":2.17e-7},{"s":"16S","t":"2025-01-01 14:25","f":1.97e-7},{"s":"16S","t":"2025-01-01 14:26","f":1.81e-7},{"s":"16S","t":"2025-01-01 14:27","f":1.68e-7},{"s":"16S","t":"2025-01-01 14:28","f":1.57e-7},{"s":"16S","t":"2025-01-01 14:29","f":1.45e-7},{"s":"16S","t":"2025-01-01 14:30","f":1.34e-7},{"s":"16S","t":"2025-01-01 14:31","f":1.27e-7},{"s":"16S","t":"2025-01-01 14:32","f":1.19e-7},{"s":"16S","t":"2025-01-01 14:33","f":1.13e-7},
{"s":"16S","t":"2025-01-01 14:34","f":1.07e-7},{"s":"16S","t":"2025-01-01 14:35","f":1.00e-7},{"s":"16S","t":"2025-01-01 14:36","f":9.43e-8},{"s":"16S","t":"2025-01-01 14:37","f":8.89e-8},{"s":"16S","t":"2025-01-01 14:38","f":8.46e-8},{"s":"16S","t":"2025-01-01 14:39","f":8.05e-8},{"s":"16S","t":"2025-01-01 14:40","f":7.82e-8},{"s":"16S","t":"2025-01-01 14:41","f":7.59e-8},{"s":"16S","t":"2025-01-01 14:42","f":7.37e-8},{"s":"16S","t":"2025-01-01 14:43","f":7.23e-8},
{"s":"16S","t":"2025-01-01 14:44","f":7.37e-8},{"s":"16S","t":"2025-01-01 14:45","f":7.09e-8},{"s":"16S","t":"2025-01-01 14:46","f":6.95e-8},{"s":"16S","t":"2025-01-01 14:47","f":6.95e-8},{"s":"16S","t":"2025-01-01 14:48","f":6.95e-8},{"s":"16S","t":"2025-01-01 14:49","f":6.95e-8},{"s":"16S","t":"2025-01-01 14:50","f":7.02e-8},{"s":"16S","t":"2025-01-01 14:51","f":6.81e-8},{"s":"16S","t":"2025-01-01 14:52","f":6.36e-8},{"s":"16S","t":"2025-01-01 14:53","f":5.94e-8},
{"s":"16S","t":"2025-01-01 14:54","f":5.82e-8},{"s":"16S","t":"2025-01-01 14:55","f":5.82e-8},{"s":"16S","t":"2025-01-01 14:56","f":5.65e-8},{"s":"16S","t":"2025-01-01 14:57","f":5.43e-8},{"s":"16S","t":"2025-01-01 14:58","f":5.28e-8},{"s":"16S","t":"2025-01-01 14:59","f":5.43e-8},{"s":"16S","t":"2025-01-01 15:00","f":5.28e-8},{"s":"16S","t":"2025-01-01 15:01","f":5.02e-8},{"s":"16S","t":"2025-01-01 15:02","f":4.83e-8},{"s":"16S","t":"2025-01-01 15:03","f":4.92e-8},
{"s":"16S","t":"2025-01-01 15:04","f":5.07e-8},{"s":"16S","t":"2025-01-01 15:05","f":5.28e-8},{"s":"16S","t":"2025-01-01 15:06","f":5.28e-8},{"s":"16S","t":"2025-01-01 15:07","f":5.60e-8},{"s":"16S","t":"2025-01-01 15:08","f":5.76e-8},{"s":"16S","t":"2025-01-01 15:09","f":6.11e-8},{"s":"16S","t":"2025-01-01 15:10","f":6.49e-8},{"s":"16S","t":"2025-01-01 15:11","f":6.75e-8},{"s":"16S","t":"2025-01-01 15:12","f":6.95e-8},{"s":"16S","t":"2025-01-01 15:13","f":7.23e-8},
{"s":"16S","t":"2025-01-01 15:14","f":7.67e-8},{"s":"16S","t":"2025-01-01 15:15","f":8.30e-8},{"s":"16S","t":"2025-01-01 15:16","f":9.24e-8},{"s":"16S","t":"2025-01-01 15:17","f":1.25e-7},{"s":"16S","t":"2025-01-01 15:18","f":1.91e-7},{"s":"16S","t":"2025-01-01 15:19","f":3.45e-7},{"s":"16S","t":"2025-01-01 15:20","f":5.94e-7},{"s":"16S","t":"2025-01-01 15:21","f":8.72e-7},{"s":"16S","t":"2025-01-01 15:22","f":1.05e-6},{"s":"16S","t":"2025-01-01 15:23","f":1.11e-6},
{"s":"16S","t":"2025-01-01 15:24","f":1.08e-6}
        ]
      },
      "mark": {"type": "line", "strokeWidth": 1.6, "clip": true},
      "encoding": {
        "y": {
          "field": "f",
          "type": "quantitative",
          "scale": {"type": "log", "domain": [1e-9, 1e-2], "nice": false},
          "axis": {
            "orient": "left",
            "title": "Flux (Watts · m⁻²)",
            "titleFontSize": 20,
            "titleFontWeight": "normal",
            "titleColor": "black",
            "titlePadding": 13,
            "tickCount": 20,
            "labelExpr": "abs(log(datum.value)/LN10 - round(log(datum.value)/LN10)) < 1e-6 && datum.value > 5e-9 && datum.value < 5e-3 ? '10' : ''",
            "labelFontSize": 20,
            "labelColor": "black",
            "labelPadding": 36.5,
            "labelOverlap": false,
            "labelFlush": false,
            "labelBound": false,
            "tickColor": "black",
            "tickWidth": 1,
            "tickSize": -8,
            "domain": false,
            "grid": true,
            "gridColor": "#b0b0b0",
            "gridWidth": 1,
            "gridOpacity": {"condition": {"test": "abs(log(datum.value)/LN10 - round(log(datum.value)/LN10)) < 1e-6 && datum.value > 5e-9 && datum.value < 5e-3", "value": 1}, "value": 0}
          }
        },
        "color": {
          "field": "s",
          "type": "nominal",
          "scale": {
            "domain": ["18L", "16L", "18S", "16S"],
            "range": ["#ffd700", "#ff0000", "#00ffff", "#0000ff"]
          },
          "legend": {
            "orient": "none",
            "legendX": 736,
            "legendY": 8,
            "title": null,
            "columns": 2,
            "symbolType": "stroke",
            "symbolSize": 700,
            "symbolStrokeWidth": 1.5,
            "labelFontSize": 13,
            "labelColor": "black",
            "labelOffset": 12,
            "columnPadding": 32,
            "rowPadding": -3,
            "padding": 4,
            "strokeColor": "#cccccc",
            "fillColor": "white",
            "cornerRadius": 4,
            "labelExpr": "{'18L': 'GOES-18 1.0-8.0Å', '18S': 'GOES-18 0.5-4.0Å', '16L': 'GOES-16 1.0-8.0Å', '16S': 'GOES-16 0.5-4.0Å'}[datum.label]"
          }
        }
      }
    },
    {
      "data": {
        "format": {"parse": {"t": "utc:'%Y-%m-%d %H:%M:%S'"}},
        "values": [
          {"t": "2025-01-01 15:23:09", "f": 1.43e-9, "label": "SolarMonitor.org : 01-Jan-2025 17:48 UTC"}
        ]
      },
      "mark": {"type": "text", "align": "right", "baseline": "alphabetic", "fontSize": 15.3, "color": "black"},
      "encoding": {
        "y": {
          "field": "f",
          "type": "quantitative",
          "axis": {
            "orient": "right",
            "title": "GOES Class",
            "titleFontSize": 20,
            "titleFontWeight": "normal",
            "titleColor": "black",
            "titleAngle": 270,
            "titlePadding": 22.5,
            "tickCount": 20,
            "labelExpr": "abs(datum.value / pow(10, floor(log(datum.value)/LN10 + 1e-9)) - 3) < 1e-6 ? (['A','B','C','M','X'][floor(log(datum.value)/LN10 + 1e-9) + 8] || '') : ''",
            "labelFontSize": 20,
            "labelColor": "black",
            "labelPadding": 12,
            "labelOffset": -2,
            "labelOverlap": false,
            "labelFlush": false,
            "labelBound": false,
            "tickColor": "black",
            "tickWidth": 1,
            "tickSize": {"condition": {"test": "abs(log(datum.value)/LN10 - round(log(datum.value)/LN10)) < 1e-6", "value": -11}, "value": -8},
            "domain": false,
            "grid": false
          }
        },
        "text": {"field": "label"}
      }
    }
  ]
}
